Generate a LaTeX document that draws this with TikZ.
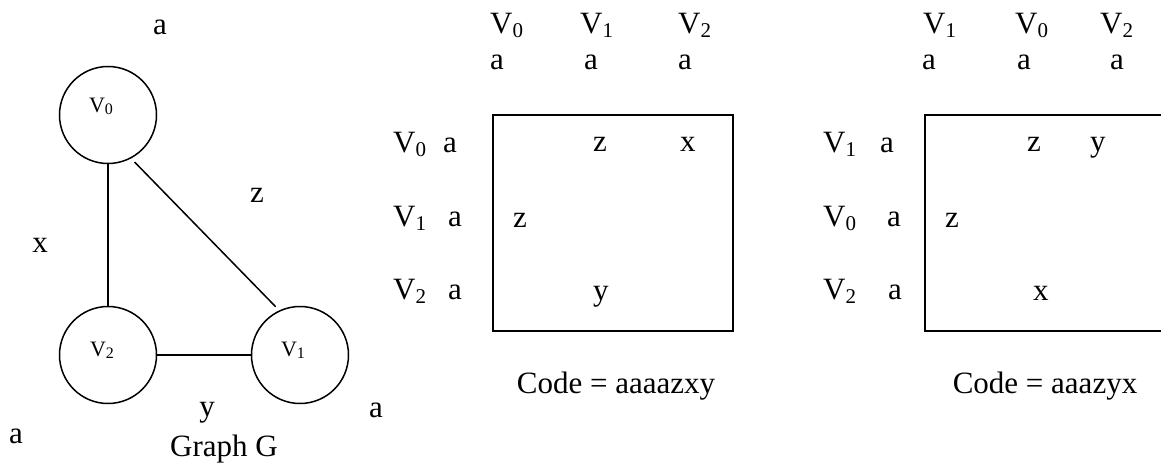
\documentclass[tikz,border=0pt]{standalone}
\usepackage{fontspec}
\setmainfont{Liberation Serif}
\newcommand\Vsub[1]{V\raisebox{-4pt}{\fontsize{21}{21}\selectfont #1}}
\newcommand\Vsm[1]{V\raisebox{-2pt}{\fontsize{16}{16}\selectfont #1}}
\begin{document}
\begin{tikzpicture}[x=1pt,y=-1pt,
  lbl/.style={inner sep=0pt, anchor=base west, font=\fontsize{31}{31}\selectfont},
  ctr/.style={inner sep=0pt, anchor=base, font=\fontsize{31}{31}\selectfont},
  vert/.style={circle, draw, line width=1.5pt, minimum size=97pt, inner sep=0pt},
  vlab/.style={inner sep=0pt, anchor=base, font=\fontsize{22}{22}\selectfont},
  edge/.style={line width=1.5pt},
  mbox/.style={draw, line width=2pt, inner sep=0pt, minimum width=240pt, minimum height=216pt}]
\useasboundingbox (0,0) rectangle (1161,473);
% graph G
\node[vert] (v0) at (108,115) {};
\node[vert] (v2) at (108,355) {};
\node[vert] (v1) at (300,355) {};
\node[vlab] (v0t) at (101,113) {\Vsm{0}};
\node[vlab] (v2t) at (102,356) {\Vsm{2}};
\node[vlab] (v1t) at (293,356) {\Vsm{1}};
\draw[edge] (v0) -- (v2);
\draw[edge, shorten <=5pt, shorten >=5pt] (v0.-62.6) -- (v1.115.4);
\draw[edge] (v2) -- (v1);
\node[ctr] (ga0) at (160,35) {a};
\node[ctr] (gz) at (257,203) {z};
\node[ctr] (gx) at (40,252) {x};
\node[ctr] (gy) at (207,416) {y};
\node[ctr] (ga1) at (376,417) {a};
\node[ctr] (ga2) at (16,443) {a};
\node[ctr] (gname) at (224,456) {Graph G};
% matrix 1
\node[mbox] (m1) at (613,223) {};
\node[lbl] (m1h0) at (490,34) {\Vsub{0}};
\node[lbl] (m1h1) at (580,34) {\Vsub{1}};
\node[lbl] (m1h2) at (678,34) {\Vsub{2}};
\node[lbl] (m1ha0) at (490,70) {a};
\node[lbl] (m1ha1) at (584,70) {a};
\node[lbl] (m1ha2) at (678,70) {a};
\node[lbl] (m1r0) at (393,153) {\Vsub{0}};
\node[lbl] (m1r1) at (393,226) {\Vsub{1}};
\node[lbl] (m1r2) at (393,299) {\Vsub{2}};
\node[lbl] (m1ra0) at (443,153) {a};
\node[lbl] (m1ra1) at (448,226) {a};
\node[lbl] (m1ra2) at (448,299) {a};
\node[lbl] (m1c01) at (593,152) {z};
\node[lbl] (m1c02) at (680,152) {x};
\node[lbl] (m1c10) at (513,227) {z};
\node[lbl] (m1c21) at (593,300) {y};
\node[ctr] (code1) at (616,393) {Code = aaaazxy};
% matrix 2
\node[mbox] (m2) at (1045,223) {};
\node[lbl] (m2h0) at (923,34) {\Vsub{1}};
\node[lbl] (m2h1) at (1015,34) {\Vsub{0}};
\node[lbl] (m2h2) at (1100,34) {\Vsub{2}};
\node[lbl] (m2ha0) at (922,70) {a};
\node[lbl] (m2ha1) at (1017,70) {a};
\node[lbl] (m2ha2) at (1110,70) {a};
\node[lbl] (m2r0) at (823,153) {\Vsub{1}};
\node[lbl] (m2r1) at (823,226) {\Vsub{0}};
\node[lbl] (m2r2) at (823,299) {\Vsub{2}};
\node[lbl] (m2ra0) at (880,153) {a};
\node[lbl] (m2ra1) at (887,226) {a};
\node[lbl] (m2ra2) at (888,299) {a};
\node[lbl] (m2c01) at (1027,152) {z};
\node[lbl] (m2c02) at (1090,152) {y};
\node[lbl] (m2c10) at (945,227) {z};
\node[lbl] (m2c21) at (1033,300) {x};
\node[ctr] (code2) at (1045,393) {Code = aaazyx};
\end{tikzpicture}
\end{document}
